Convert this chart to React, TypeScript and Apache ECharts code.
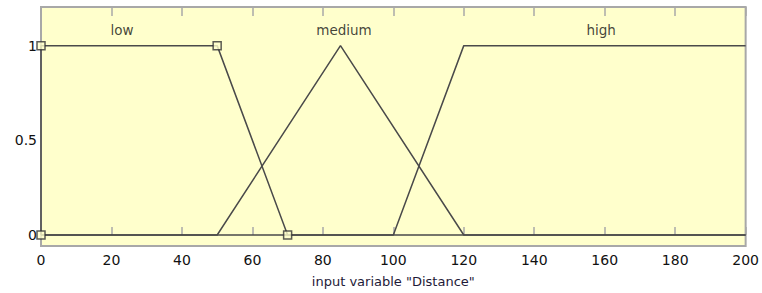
import React, { useEffect, useRef } from "react";
import * as echarts from "echarts";

const xTicks = [0, 20, 40, 60, 80, 100, 120, 140, 160, 180, 200];
const yTickLabels = [0, 0.5, 1];
const lowPts: [number, number][] = [[0, 0], [0, 1], [50, 1], [70, 0], [200, 0]];
const lowMarkers: [number, number][] = [[0, 0], [0, 1], [50, 1], [70, 0]];
const mediumPts: [number, number][] = [[0, 0], [50, 0], [85, 1], [120, 0], [200, 0]];
const highPts: [number, number][] = [[0, 0], [100, 0], [120, 1], [200, 1]];
const mfNames = ["low", "medium", "high"];
const mfLabelPos: [number, number][] = [[23, 1.085], [86, 1.085], [159, 1.085]];

const lineColor = "#4a4a4a";
const font = "DejaVu Sans";

export default function App() {
  const ref = useRef<HTMLDivElement>(null);
  useEffect(() => {
    const chart = echarts.init(ref.current!, null, { renderer: "svg" });
    const lineSeries = (data: [number, number][], z: number) => ({
      type: "line",
      data,
      showSymbol: false,
      symbol: "none",
      lineStyle: { color: lineColor, width: 1.5 },
      z,
      silent: true,
    });
    chart.setOption({
      animation: false,
      backgroundColor: "#ffffff",
      grid: {
        left: 41,
        right: 13,
        top: 7,
        bottom: 45,
        show: true,
        backgroundColor: "#ffffcc",
        borderColor: "#a8a8a8",
        borderWidth: 2,
      },
      xAxis: [
        {
          type: "value",
          min: xTicks[0],
          max: xTicks[xTicks.length - 1],
          interval: 20,
          position: "bottom",
          name: 'input variable "Distance"',
          nameLocation: "middle",
          nameGap: 29,
          nameTextStyle: { fontFamily: font, fontSize: 13, color: "#1e1a38" },
          axisLine: { show: false },
          axisTick: { show: true, inside: true, length: 8, lineStyle: { color: "#a8a8a8", width: 1.5 } },
          splitLine: { show: false },
          axisLabel: { fontFamily: font, fontSize: 14, color: "#111111", margin: 7, showMinLabel: true, showMaxLabel: true },
        },
        {
          type: "value",
          min: xTicks[0],
          max: xTicks[xTicks.length - 1],
          interval: 20,
          position: "top",
          axisLine: { show: false },
          axisTick: { show: true, inside: true, length: 9, lineStyle: { color: "#a8a8a8", width: 1.5 } },
          splitLine: { show: false },
          axisLabel: { show: false },
        },
      ],
      yAxis: {
        type: "value",
        min: -0.058,
        max: 1.204,
        axisLine: { show: false },
        axisTick: { show: false },
        splitLine: { show: false },
        axisLabel: {
          fontFamily: font,
          fontSize: 14,
          color: "#111111",
          margin: 4,
          customValues: yTickLabels,
        },
      },
      series: [
        lineSeries(mediumPts, 2),
        lineSeries(highPts, 2),
        lineSeries(lowPts, 3),
        {
          type: "scatter",
          data: lowMarkers,
          symbol: "rect",
          symbolSize: 8,
          itemStyle: { color: "#ffffcc", borderColor: "#333333", borderWidth: 1.5 },
          z: 5,
          silent: true,
        },
        {
          type: "scatter",
          data: mfLabelPos.map((p, i) => ({ value: p, name: mfNames[i] })),
          symbolSize: 0,
          label: {
            show: true,
            position: "inside",
            formatter: "{b}",
            fontFamily: font,
            fontSize: 13.5,
            color: "#111111",
          },
          z: 6,
          silent: true,
        },
      ],
    });
    return () => chart.dispose();
  }, []);
  return <div ref={ref} style={{ width: 762, height: 293, position: "absolute", left: 0, top: 0 }} />;
}
